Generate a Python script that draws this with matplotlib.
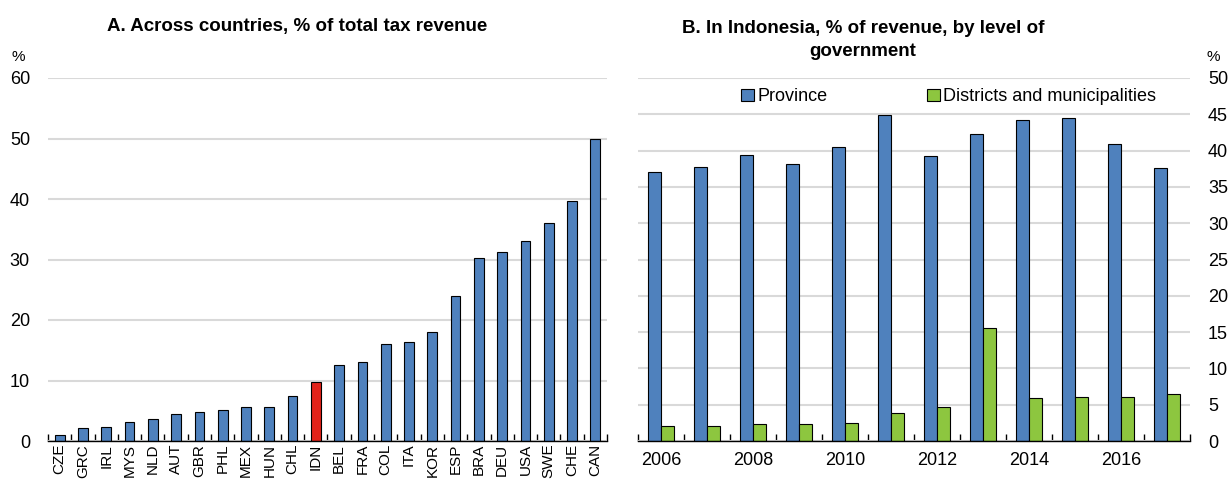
import numpy as np
import matplotlib
matplotlib.use("Agg")
import matplotlib.pyplot as plt
from matplotlib.ticker import FixedLocator

plt.rcParams['font.family'] = ['Liberation Sans', 'DejaVu Sans']

# Panel A: share of total tax revenue, by country
countries = ["CZE", "GRC", "IRL", "MYS", "NLD", "AUT", "GBR", "PHL", "MEX", "HUN", "CHL", "IDN",
             "BEL", "FRA", "COL", "ITA", "KOR", "ESP", "BRA", "DEU", "USA", "SWE", "CHE", "CAN"]
tax_share = [1.0, 2.2, 2.3, 3.1, 3.6, 4.4, 4.8, 5.2, 5.7, 5.7, 7.4, 9.7,
             12.5, 13.1, 16.1, 16.4, 18.0, 23.9, 30.3, 31.2, 33.0, 36.0, 39.6, 49.9]
highlight = "IDN"

# Panel B: Indonesia, share of revenue by level of government
years = list(range(2006, 2018))
province = [37.0, 37.8, 39.4, 38.1, 40.5, 44.9, 39.3, 42.3, 44.2, 44.5, 40.9, 37.6]
districts = [2.1, 2.1, 2.3, 2.4, 2.5, 3.8, 4.7, 15.6, 5.9, 6.0, 6.0, 6.5]

BLUE = "#4f81bd"
RED = "#e2231a"
GREEN = "#8dc63f"
GRID = "#d9d9d9"
FS = 13

fig = plt.figure(figsize=(12.28, 4.82), dpi=100)
ax1 = fig.add_axes([48 / 1228, 1 - 441 / 482, 559 / 1228, 363 / 482])
ax2 = fig.add_axes([638 / 1228, 1 - 441 / 482, 552 / 1228, 363 / 482])


def style_axes(ax):
    for side in ["top", "left", "right"]:
        ax.spines[side].set_visible(False)
    ax.spines["bottom"].set_color("black")
    ax.spines["bottom"].set_linewidth(1.0)
    ax.yaxis.grid(True, color=GRID, linewidth=1.5)
    ax.set_axisbelow(True)
    ax.tick_params(axis="y", length=0, labelsize=FS, pad=13)
    ax.tick_params(axis="x", which="major", length=0)
    ax.tick_params(axis="x", which="minor", direction="in", length=5, width=1, color="black")


# Panel A
x1 = np.arange(len(countries))
colors = [RED if c == highlight else BLUE for c in countries]
ax1.bar(x1, tax_share, width=0.42, color=colors, edgecolor="black", linewidth=0.8)
style_axes(ax1)
ax1.set_xlim(-0.5, len(countries) - 0.5)
ax1.set_ylim(0, 60)
ax1.set_yticks(np.arange(0, 61, 10))
ax1.set_xticks(x1)
ax1.set_xticklabels(countries, rotation=90, fontsize=11)
ax1.tick_params(axis="x", which="major", pad=2)
ax1.xaxis.set_minor_locator(FixedLocator(np.arange(-0.5, len(countries), 1.0)))

# Panel B
x2 = np.arange(len(years))
ax2.bar(x2 - 0.14, province, width=0.28, color=BLUE, edgecolor="black", linewidth=0.8, label="Province")
ax2.bar(x2 + 0.14, districts, width=0.28, color=GREEN, edgecolor="black", linewidth=0.8,
        label="Districts and municipalities")
style_axes(ax2)
ax2.yaxis.tick_right()
ax2.set_xlim(-0.5, len(years) - 0.5)
ax2.set_ylim(0, 50)
ax2.set_yticks(np.arange(0, 51, 5))
ax2.set_xticks(x2[::2])
ax2.set_xticklabels([str(y) for y in years[::2]], fontsize=FS)
ax2.tick_params(axis="x", which="major", pad=8)
ax2.xaxis.set_minor_locator(FixedLocator(np.arange(-0.5, len(years), 1.0)))
ax2.legend(loc="center", bbox_to_anchor=(0.563, 0.948), ncol=2, frameon=False, fontsize=FS,
           handlelength=0.7, handleheight=0.7, handletextpad=0.2, columnspacing=5.5,
           borderaxespad=0)

# Titles and unit labels
fig.text(297 / 1228, 1 - 27 / 482, "A. Across countries, % of total tax revenue",
         ha="center", va="center", fontsize=13.5, fontweight="bold")
fig.text(863 / 1228, 1 - 40 / 482, "B. In Indonesia, % of revenue, by level of\ngovernment",
         ha="center", va="center", fontsize=13.5, fontweight="bold", linespacing=1.4)
fig.text(18 / 1228, 1 - 57 / 482, "%", ha="center", va="center", fontsize=11)
fig.text(1213 / 1228, 1 - 57 / 482, "%", ha="center", va="center", fontsize=11)

fig.savefig("out.png", dpi=100)
